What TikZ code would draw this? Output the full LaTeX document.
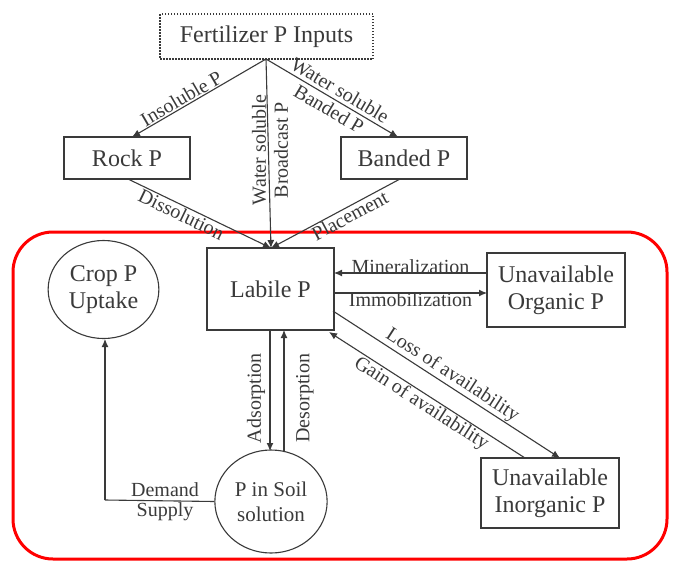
\documentclass[tikz,border=0pt]{standalone}
\usepackage{fontspec}
\setmainfont{Liberation Serif}
\usetikzlibrary{arrows.meta}
\definecolor{ink}{HTML}{3A3A3A}
\begin{document}
\begin{tikzpicture}[x=1pt,y=-1pt,
  box/.style={draw=ink,line width=1.1pt,text=ink,inner sep=0pt,align=center,font=\fontsize{24}{27}\selectfont},
  arr/.style={draw=ink,line width=1.1pt,-{Latex[length=8pt,width=7pt]}},
  ln/.style={draw=ink,line width=1.1pt},
  lab/.style={text=ink,inner sep=1pt,align=center,font=\fontsize{20}{21}\selectfont}]
\useasboundingbox (0,0) rectangle (675,563);
\fill[white] (0,0) rectangle (675,563);
% red frame
\draw[red,line width=3pt,rounded corners=40pt] (13,232) rectangle (667,559);
% nodes
\node[box,dash pattern=on 1.5pt off 1.5pt,minimum width=213pt,minimum height=45pt] (fert) at (266.5,36.5) {Fertilizer P Inputs};
\node[box,minimum width=126pt,minimum height=42pt] (rock) at (127,158) {Rock P};
\node[box,minimum width=126pt,minimum height=42pt] (band) at (404,158) {Banded P};
\node[box,minimum width=127pt,minimum height=82pt] (lab) at (270.5,289) {Labile P};
\node[box,minimum width=138pt,minimum height=74pt] (org) at (556,290) {Unavailable\\Organic P};
\node[box,minimum width=138pt,minimum height=70pt] (inorg) at (550,493) {Unavailable\\Inorganic P};
\node[circle,draw=ink,line width=1.1pt,minimum size=98pt,inner sep=0pt,xscale=1.13] (crop) at (103.5,289.5) {};
\node[text=ink,align=center,font=\fontsize{24}{27}\selectfont] (croptxt) at (103.5,289.5) {Crop P\\Uptake};
\node[circle,draw=ink,line width=1.1pt,minimum size=103pt,inner sep=0pt,xscale=1.09] (soil) at (271,501.5) {};
\node[text=ink,align=center,font=\fontsize{21}{25}\selectfont] (soiltxt) at (271,501.5) {P in Soil\\solution};
% coordinates
\coordinate (top) at (266,59);
\coordinate (labin) at (271,248);
\coordinate (rockout) at (128,179);
\coordinate (bandout) at (400,179);
\coordinate (rockin) at (132,137);
\coordinate (bandin) at (398,137);
% top arrows
\draw[arr] (top) -- node[lab,sloped,above,pos=0.6] {Insoluble P} (rockin);
\draw[arr] (top) -- node[lab,sloped,pos=0.52] {Water soluble\\[1pt]Banded P} (bandin);
\draw[arr] (top) -- (labin);
\node[lab,rotate=90] (wsb) at (270,150) {Water soluble\\[1pt]Broadcast P};
\draw[arr] (rockout) -- node[lab,sloped,below,pos=0.4] {Dissolution} (labin);
\draw[arr] (bandout) -- node[lab,sloped,below,pos=0.42] {Placement} (labin);
% labile - organic
\coordinate (o1) at (487,273);
\coordinate (l1) at (334,273);
\coordinate (o2) at (487,293);
\coordinate (l2) at (334,293);
\draw[arr] (o1) -- node[lab,above,yshift=-2pt] {Mineralization} (l1);
\draw[arr] (l2) -- node[lab,below,yshift=2pt] {Immobilization} (o2);
% labile - inorganic
\coordinate (l3) at (333,311);
\coordinate (i3) at (560,458);
\coordinate (i4) at (525,458);
\coordinate (l4) at (329,332);
\draw[arr] (l3) -- node[lab,sloped,above,pos=0.5] {Loss of availability} (i3);
\draw[arr] (i4) -- node[lab,sloped,below,pos=0.5] {Gain of availability} (l4);
% labile - soil
\coordinate (l5) at (270,330);
\coordinate (s5) at (270,451);
\coordinate (s6) at (284,452);
\coordinate (l6) at (284,330);
\draw[arr] (l5) -- (s5);
\draw[arr] (s6) -- (l6);
\node[lab,rotate=90] (ads) at (256,398) {Adsorption};
\node[lab,rotate=90] (des) at (305,398) {Desorption};
% soil - crop
\coordinate (corner) at (105,500);
\coordinate (cropin) at (105,339);
\draw[ln] (soil.west) -- (corner);
\draw[arr] (corner) -- (cropin);
\node[lab] (dem) at (165,490) {Demand};
\node[lab] (sup) at (165,512) {Supply};
\end{tikzpicture}
\end{document}
